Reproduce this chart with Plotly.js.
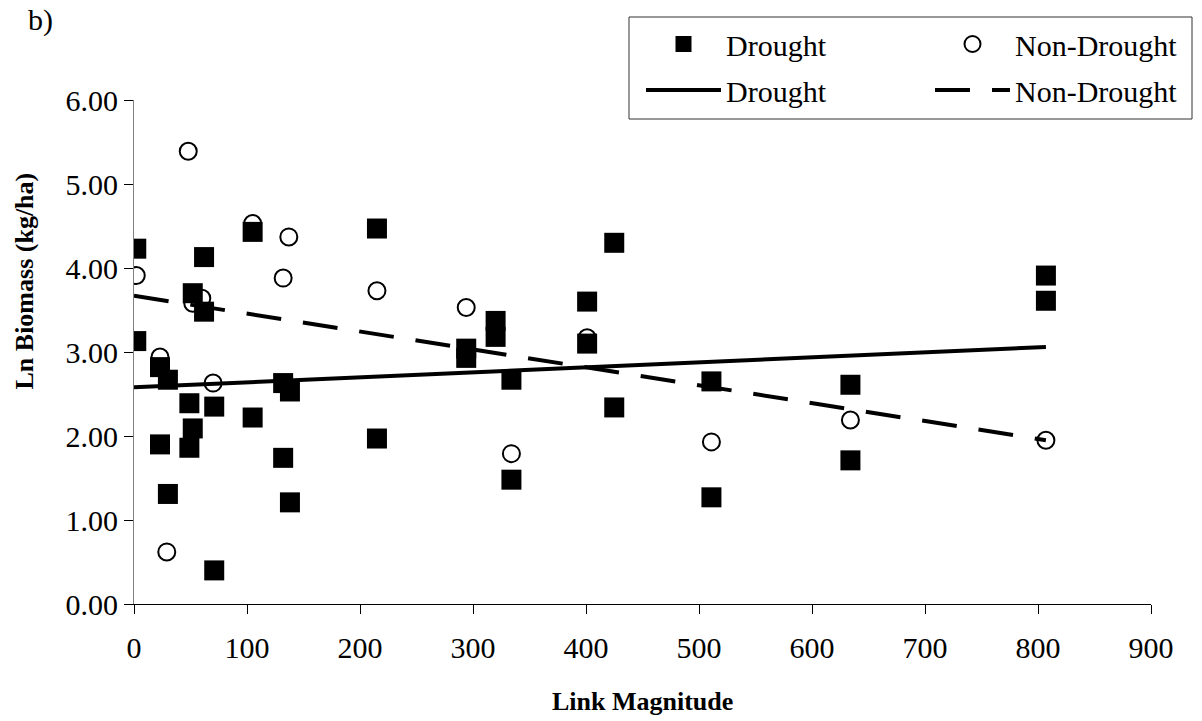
<!DOCTYPE html>
<html>
<head>
<meta charset="utf-8">
<script src="https://cdn.plot.ly/plotly-3.0.1.min.js"></script>
<style>html,body{margin:0;padding:0;background:#fff;}#chart{width:1202px;height:721px;}</style>
</head>
<body>
<div id="chart"></div>
<script>
// Drought observations (Link Magnitude, Ln Biomass)
const droughtX = [2, 2, 23, 30, 23, 30, 49, 49, 52, 52, 62, 62, 71, 71, 105, 105, 132, 132, 138, 138, 215, 215, 294, 294, 320, 320, 334, 334, 401, 401, 425, 425, 511, 511, 634, 634, 807, 807];
const droughtY = [4.23, 3.13, 2.82, 2.67, 1.90, 1.31, 2.39, 1.86, 2.09, 3.70, 4.13, 3.48, 2.35, 0.40, 4.43, 2.22, 2.63, 1.74, 2.53, 1.21, 4.47, 1.97, 3.04, 2.93, 3.37, 3.18, 2.67, 1.48, 3.60, 3.10, 4.30, 2.34, 2.65, 1.27, 2.61, 1.71, 3.91, 3.61];
// Non-drought observations
const nonDroughtX = [2, 23, 29, 48, 52, 60, 70, 105, 132, 137, 215, 294, 334, 401, 511, 634, 807];
const nonDroughtY = [3.91, 2.94, 0.62, 5.39, 3.58, 3.64, 2.63, 4.53, 3.88, 4.37, 3.73, 3.53, 1.79, 3.17, 1.93, 2.19, 1.95];
// Trend lines (end points)
const droughtTrendX = [0, 807];
const droughtTrendY = [2.58, 3.06];
const nonDroughtTrendX = [0, 807];
const nonDroughtTrendY = [3.67, 1.95];
// Axis ticks
const xTicks = [0, 100, 200, 300, 400, 500, 600, 700, 800, 900];
const yTicks = [0, 1, 2, 3, 4, 5, 6];

const FONT = 'Liberation Serif, Times New Roman, serif';

const traces = [
  {x: nonDroughtX, y: nonDroughtY, type: 'scatter', mode: 'markers', name: 'Non-Drought',
   legend: 'legend2', legendgroup: 'nd1',
   marker: {symbol: 'circle-open', size: 17, color: '#000', line: {width: 2, color: '#000'}}},
  {x: droughtX, y: droughtY, type: 'scatter', mode: 'markers', name: 'Drought',
   legend: 'legend', legendgroup: 'd1',
   marker: {symbol: 'square', size: 20, color: '#000'}},
  {x: droughtTrendX, y: droughtTrendY, type: 'scatter', mode: 'lines', name: 'Drought',
   legend: 'legend', legendgroup: 'd2',
   line: {color: '#000', width: 4}},
  {x: nonDroughtTrendX, y: nonDroughtTrendY, type: 'scatter', mode: 'lines', name: 'Non-Drought',
   legend: 'legend2', legendgroup: 'nd2',
   line: {color: '#000', width: 4, dash: '35px,22px'}}
];

const W = 1202, H = 721, L = 134, R = 51, T = 100, B = 117;
const pw = W - L - R, ph = H - T - B;
const px = v => (v - L) / pw;
const py = v => (H - B - v) / ph;

const legendCommon = {
  font: {family: FONT, size: 30, color: '#000'},
  bgcolor: 'rgba(0,0,0,0)', borderwidth: 0,
  itemwidth: 75, tracegroupgap: 4,
  xanchor: 'left', yanchor: 'top', orientation: 'v'
};

const layout = {
  width: W, height: H,
  margin: {l: L, r: R, t: T, b: B, pad: 0},
  paper_bgcolor: '#fff', plot_bgcolor: '#fff',
  font: {family: FONT, size: 30, color: '#000'},
  showlegend: true,
  legend: Object.assign({}, legendCommon, {x: px(641), y: py(18)}),
  legend2: Object.assign({}, legendCommon, {x: px(930), y: py(18)}),
  xaxis: {
    range: [0, 900], tickvals: xTicks, ticktext: xTicks.map(String),
    showgrid: false, zeroline: false, showline: true, linecolor: '#000', linewidth: 1,
    ticks: 'outside', ticklen: 9, tickcolor: '#000', tickwidth: 1, ticklabelstandoff: 8,
    tickfont: {family: FONT, size: 30, color: '#000'}
  },
  yaxis: {
    range: [0, 6], tickvals: yTicks, ticktext: yTicks.map(v => v.toFixed(2)),
    ticksuffix: '\u00a0',
    showgrid: false, zeroline: false, showline: true, linecolor: '#808080', linewidth: 1,
    ticks: 'outside', ticklen: 9, tickcolor: '#000', tickwidth: 1,
    tickfont: {family: FONT, size: 30, color: '#000'}
  },
  shapes: [
    {type: 'rect', xref: 'paper', yref: 'paper', x0: px(629), x1: px(1192), y0: py(119), y1: py(17),
     line: {color: '#333', width: 1}, fillcolor: 'rgba(0,0,0,0)', layer: 'below'}
  ],
  annotations: [
    {text: 'b)', xref: 'paper', yref: 'paper', x: px(40), y: py(20), xanchor: 'center', yanchor: 'middle',
     showarrow: false, font: {family: FONT, size: 30, color: '#000'}},
    {text: '<b>Link Magnitude</b>', xref: 'paper', yref: 'paper', x: 0.5, y: py(701), xanchor: 'center', yanchor: 'middle',
     showarrow: false, font: {family: FONT, size: 26, color: '#000'}},
    {text: '<b>Ln Biomass (kg/ha)</b>', xref: 'paper', yref: 'paper', x: px(24), y: py(392), xanchor: 'center', yanchor: 'bottom',
     textangle: -90, showarrow: false, font: {family: FONT, size: 26, color: '#000'}}
  ]
};

Plotly.newPlot('chart', traces, layout, {displayModeBar: false, staticPlot: true});
</script>
</body>
</html>
